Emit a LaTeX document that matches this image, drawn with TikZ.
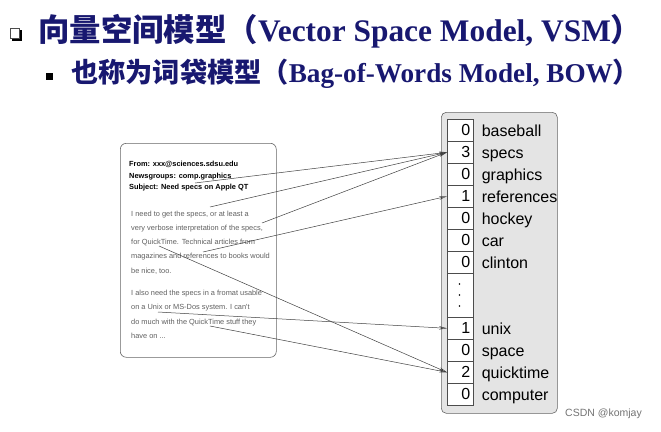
\documentclass[tikz,border=0pt]{standalone}
\usepackage{fontspec}
\setmainfont{Liberation Serif}
\newfontfamily\cjk{Noto Sans CJK SC}
\newfontfamily\arial{Liberation Sans}
\usetikzlibrary{arrows.meta,calc}
\definecolor{titleblue}{RGB}{24,24,112}
\definecolor{boxgray}{RGB}{228,228,228}
\definecolor{bodygray}{RGB}{95,95,95}
\begin{document}
\begin{tikzpicture}[x=1pt,y=-1pt,
  cell/.style={draw=black!70, fill=white, line width=0.6pt, minimum width=26pt, minimum height=22pt, inner xsep=3pt, inner ysep=0pt, text width=20pt, align=right, anchor=north west, font=\arial\fontsize{16}{16}\selectfont},
  word/.style={anchor=base west, inner sep=0pt, font=\arial\fontsize{16}{16}\selectfont},
  hdr/.style={anchor=base west, inner sep=0pt, font=\arial\bfseries\fontsize{7.4}{8}\selectfont},
  bodytxt/.style={anchor=base west, inner sep=0pt, text=bodygray, font=\arial\fontsize{7.4}{8}\selectfont},
  link/.style={draw=black!75, line width=0.5pt, -{Stealth[open, length=8pt, width=3.5pt]}},
]
\useasboundingbox (0,0) rectangle (661,431);
% bullets
\fill[black] (12,30) rectangle (21.5,40.5);
\draw[fill=white, draw=black!70, line width=0.5pt] (10.5,28.5) rectangle (19.5,38.5);
\fill[black] (46,73) rectangle (53,80);
% titles
\node[anchor=west, inner sep=0pt, text=titleblue] (t1) at (38,31) {\cjk\bfseries\fontsize{31.4}{31.4}\selectfont 向量空间模型（{\rmfamily\bfseries Vector Space Model, VSM}）};
\node[anchor=west, inner sep=0pt, text=titleblue] (t2) at (71,73.5) {\cjk\bfseries\fontsize{27.2}{27.2}\selectfont 也称为词袋模型（{\rmfamily\bfseries Bag-of-Words Model, BOW}）};
% document
\node[draw=black!60, line width=0.6pt, rounded corners=6pt, minimum width=156pt, minimum height=214pt, anchor=north west] (doc) at (120,143) {};
\node[hdr] (h1) at (129,166.5) {From: xxx@sciences.sdsu.edu};
\node[hdr] (h2) at (129,178) {Newsgroups: comp.graphics};
\node[hdr] (h3) at (129,189.5) {Subject: Need specs on Apple QT};
\node[bodytxt] (b1) at (131,216) {I need to get the specs, or at least a};
\node[bodytxt] (b2) at (131,230.3) {very verbose interpretation of the specs,};
\node[bodytxt] (b3) at (131,244.6) {for QuickTime. Technical articles from};
\node[bodytxt] (b4) at (131,258.9) {magazines and references to books would};
\node[bodytxt] (b5) at (131,273.2) {be nice, too.};
\node[bodytxt] (b6) at (131,295.5) {I also need the specs in a fromat usable};
\node[bodytxt] (b7) at (131,309.8) {on a Unix or MS-Dos system. I can't};
\node[bodytxt] (b8) at (131,324.1) {do much with the QuickTime stuff they};
\node[bodytxt] (b9) at (131,338.4) {have on ...};
% vector
\node[draw=black!60, fill=boxgray, line width=0.6pt, rounded corners=5pt, minimum width=116pt, minimum height=301pt, anchor=north west] (vec) at (441,112) {};
\node[cell] (c1) at (447,119) {0};
\node[cell] (c2) at (447,141) {3};
\node[cell] (c3) at (447,163) {0};
\node[cell] (c4) at (447,185) {1};
\node[cell] (c5) at (447,207) {0};
\node[cell] (c6) at (447,229) {0};
\node[cell] (c7) at (447,251) {0};
\node[cell, minimum height=44pt] (c8) at (447,273) {};
\node[cell] (c9) at (447,317) {1};
\node[cell] (c10) at (447,339) {0};
\node[cell] (c11) at (447,361) {2};
\node[cell] (c12) at (447,383) {0};
\foreach \yy in {284,295,306} \fill (459.5,\yy) circle (0.8pt);
\node[word] (w1) at ($(c1.east)+(8,5.8)$) {baseball};
\node[word] (w2) at ($(c2.east)+(8,5.8)$) {specs};
\node[word] (w3) at ($(c3.east)+(8,5.8)$) {graphics};
\node[word] (w4) at ($(c4.east)+(8,5.8)$) {references};
\node[word] (w5) at ($(c5.east)+(8,5.8)$) {hockey};
\node[word] (w6) at ($(c6.east)+(8,5.8)$) {car};
\node[word] (w7) at ($(c7.east)+(8,5.8)$) {clinton};
\node[word] (w9) at ($(c9.east)+(8,5.8)$) {unix};
\node[word] (w10) at ($(c10.east)+(8,5.8)$) {space};
\node[word] (w11) at ($(c11.east)+(8,5.8)$) {quicktime};
\node[word] (w12) at ($(c12.east)+(8,5.8)$) {computer};
% link starts
\coordinate (sA) at (195,183);
\coordinate (sB) at (210,207);
\coordinate (sC) at (262,223);
\coordinate (sD) at (203,252);
\coordinate (sE) at (159,246);
\coordinate (sF) at (158,312);
\coordinate (sG) at (210,326);
\draw[link] (sA) -- (c2.west);
\draw[link] (sB) -- (c2.west);
\draw[link] (sC) -- (c2.west);
\draw[link] (sD) -- (c4.west);
\draw[link] (sE) -- (c11.west);
\draw[link] (sF) -- (c9.west);
\draw[link] (sG) -- (c11.west);
% watermark
\node[anchor=west, inner sep=0pt, text=black!55, font=\arial\fontsize{10.5}{11}\selectfont] (wm) at (565,414) {CSDN @komjay};
\end{tikzpicture}
\end{document}
